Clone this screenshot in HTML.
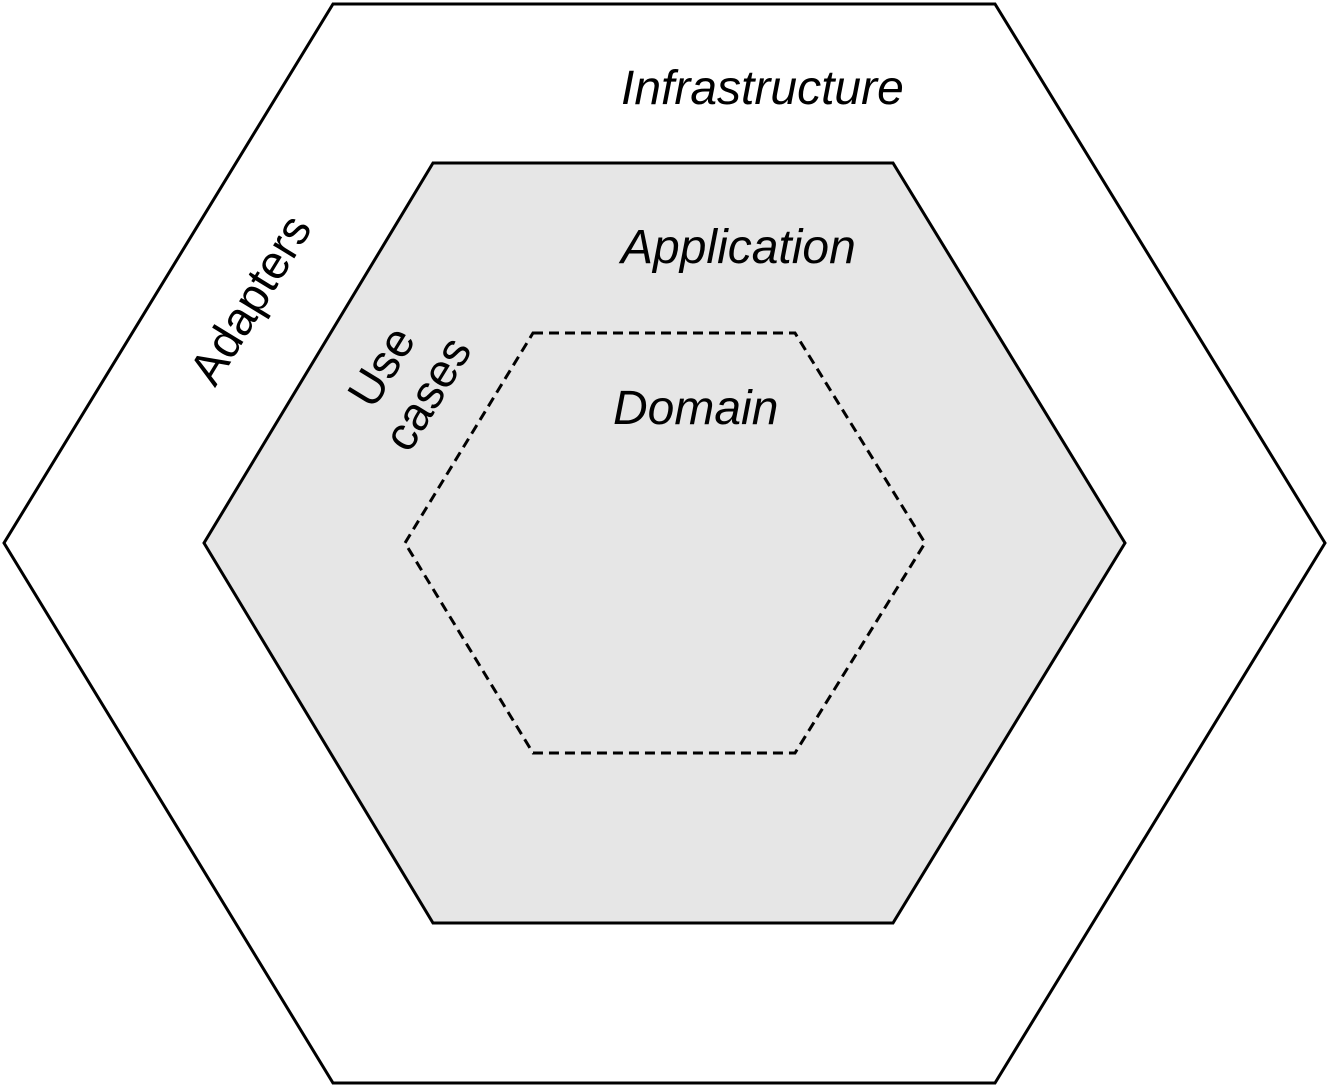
<!DOCTYPE html>
<html><head><style>html,body{margin:0;padding:0;background:#fff}</style></head>
<body>
<svg width="1328" height="1087" viewBox="0 0 1328 1087" xmlns="http://www.w3.org/2000/svg">
<polygon points="333,4 995,4 1325,543 995,1083 333,1083 4,543" fill="#fff" stroke="#000" stroke-width="3"/>
<polygon points="433,163 893,163 1125,543 893,923 433,923 204,543" fill="#e6e6e6" stroke="#000" stroke-width="3"/>
<polygon points="533,333 795,333 925,543 795,753 533,753 405,543" fill="none" stroke="#000" stroke-width="3" stroke-dasharray="10,6"/>
<g font-family="Liberation Sans, sans-serif" font-style="italic" font-size="48" fill="#000">
<text x="621" y="104">Infrastructure</text>
<text x="621" y="263">Application</text>
<text x="613" y="424">Domain</text>
</g>
<g font-family="Liberation Sans, sans-serif" font-size="47" fill="#000" text-anchor="middle">
<text transform="translate(264,308) rotate(-58.6)">Adapters</text>
<text transform="translate(395,375) rotate(-58.6)">Use</text>
<text transform="translate(441,402) rotate(-58.6)">cases</text>
</g>
</svg>
</body></html>
